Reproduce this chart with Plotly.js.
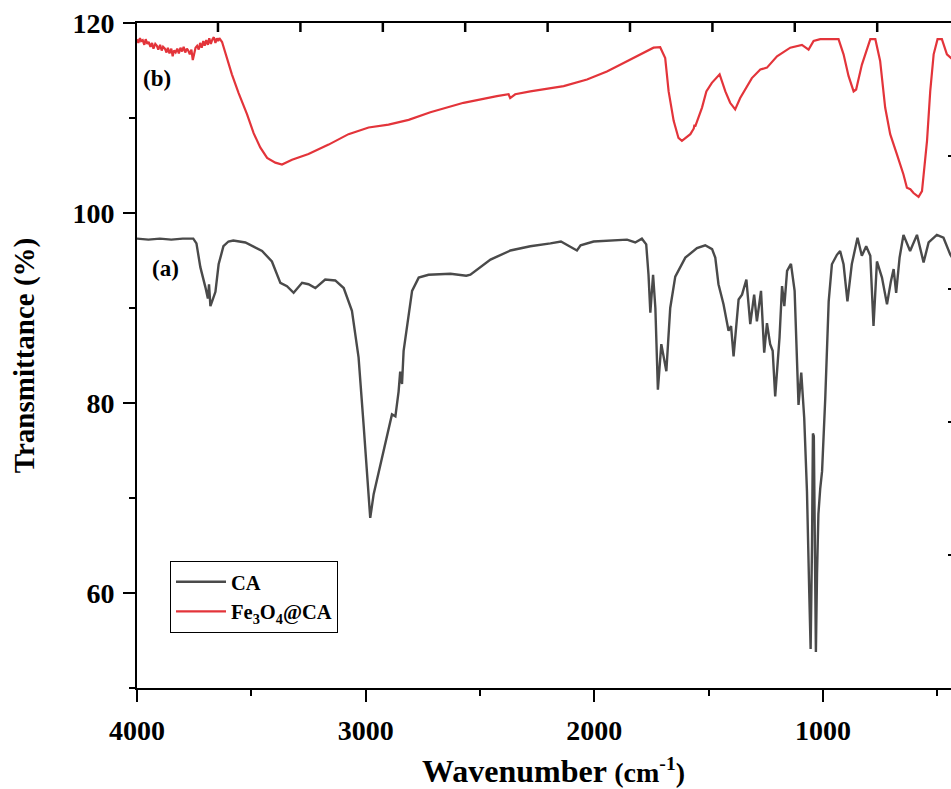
<!DOCTYPE html>
<html>
<head>
<meta charset="utf-8">
<script src="https://cdn.plot.ly/plotly-3.0.1.min.js"></script>
<style>html,body{margin:0;padding:0;overflow:hidden;background:#fff;}</style>
</head>
<body>
<div id="chart"></div>
<script>
// ---- Data ----
const caWavenumber = [4000,3950,3900,3850,3800,3754,3740,3723,3701,3690,3685,3679,3670,3657,3643,3622,3600,3579,3526,3453,3410,3373,3344,3315,3278,3250,3220,3177,3133,3096,3060,3031,3009,2994,2980,2965,2936,2921,2900,2885,2870,2856,2849,2841,2834,2819,2797,2768,2725,2629,2560,2542,2454,2367,2280,2192,2146,2076,2060,2003,1930,1857,1821,1792,1773,1763,1755,1743,1733,1722,1707,1685,1668,1646,1602,1551,1515,1485,1471,1457,1435,1413,1402,1391,1369,1354,1335,1318,1301,1289,1271,1257,1245,1231,1220,1209,1190,1179,1169,1157,1140,1124,1107,1095,1082,1070,1060,1054,1048,1044,1040,1036,1031,1026,1020,1012,1004,990,975,961,939,925,910,893,874,849,830,811,793,779,764,742,720,703,691,680,665,648,619,589,560,538,502,473,443,427];
const caTransmittance = [97.3,97.2,97.3,97.2,97.3,97.3,96.8,94.3,92.2,91.0,92.5,90.2,90.8,91.7,94.6,96.5,97.0,97.1,96.9,96.0,94.9,92.65,92.3,91.6,92.65,92.5,92.1,93.0,92.9,92.1,89.7,84.8,77.7,72.5,67.9,70.4,73.5,74.9,77.0,78.8,78.6,81.2,83.3,82.0,85.5,88.3,91.8,93.2,93.5,93.6,93.4,93.5,95.1,96.05,96.5,96.8,97.0,96.05,96.6,97.0,97.1,97.2,96.9,97.3,96.7,93.5,89.5,93.5,90.0,81.4,86.2,83.35,90.0,93.3,95.3,96.3,96.6,96.2,95.3,92.5,90.4,87.6,88.1,84.9,90.9,91.4,93.0,88.3,91.4,88.6,91.8,85.3,88.4,86.2,85.5,80.7,86.9,92.3,90.2,93.9,94.65,91.8,79.8,83.2,78.4,70.7,60.0,54.1,65.0,76.8,76.5,65.0,53.8,62.0,68.3,71.0,72.8,80.5,90.7,94.6,95.6,96.0,94.6,90.7,94.6,97.4,95.5,96.5,95.5,88.1,94.9,93.2,90.4,92.8,94.1,91.6,95.3,97.7,96.0,97.7,94.8,96.9,97.7,97.4,95.6,95.0];

const feWavenumber = [4000,3994,3987,3982,3975,3968,3962,3955,3949,3941,3934,3928,3920,3913,3907,3899,3892,3886,3878,3871,3865,3858,3850,3844,3838,3831,3824,3817,3810,3803,3796,3789,3782,3776,3769,3762,3756,3750,3744,3737,3730,3724,3717,3710,3704,3697,3690,3684,3677,3670,3664,3657,3651,3645,3640,3628,3614,3585,3556,3519,3490,3461,3431,3395,3366,3340,3322,3250,3162,3075,2987,2900,2812,2717,2572,2426,2375,2368,2355,2346,2280,2134,2032,1945,1872,1799,1741,1712,1690,1675,1653,1632,1617,1580,1565,1562,1559,1529,1510,1486,1452,1427,1406,1384,1362,1311,1274,1245,1201,1143,1092,1063,1041,1012,932,910,888,866,855,830,793,771,750,728,706,677,648,633,618,604,582,567,545,531,516,499,480,458,439,427];
const feTransmittance = [118.3,117.9,118.4,118.1,118.2,117.7,118.3,117.8,118.0,117.5,117.9,117.3,117.8,117.6,117.2,117.7,117.1,117.5,117.3,116.9,117.4,116.8,117.3,116.5,117.1,116.9,117.3,116.8,117.4,117.0,117.5,116.9,117.3,117.1,116.7,117.2,116.1,116.8,117.4,117.6,117.2,117.9,117.4,118.1,117.6,118.2,117.7,118.4,117.8,118.3,118.5,117.9,118.4,118.1,118.4,118.0,116.9,114.6,112.65,110.4,108.4,106.9,105.8,105.3,105.1,105.4,105.6,106.2,107.2,108.3,109.0,109.3,109.8,110.6,111.6,112.3,112.5,112.1,112.4,112.5,112.8,113.35,114.05,114.9,115.8,116.7,117.4,117.45,116.3,112.8,109.7,107.9,107.6,108.3,108.9,109.3,109.1,111.1,112.8,113.7,114.6,112.8,111.6,110.9,112.1,114.2,115.1,115.3,116.5,117.4,117.7,117.2,118.1,118.3,118.3,116.7,114.4,112.8,113.0,115.6,118.3,118.3,116.0,111.1,108.3,106.2,104.05,102.65,102.5,102.1,101.7,102.3,107.6,112.8,116.7,118.3,118.3,116.7,116.3,116.4];

const seriesNames = ['CA', 'Fe<sub>3</sub>O<sub>4</sub>@CA'];
const seriesColors = ['#4a4a4a', '#e3343a'];
const xTicks = [4000, 3000, 2000, 1000];
const xMinorTicks = [3500, 2500, 1500, 500];
const yTicks = [60, 80, 100, 120];
const yMinorTicks = [50, 70, 90, 110];
// frame ticks of the cropped top / right axes (paper fractions of the plot area)
const topFrameTickPos = [0.0991, 0.2000, 0.3009, 0.4017, 0.5026, 0.6034, 0.7043, 0.8051, 0.9060];
const rightFrameTicks = [0, 1, 2, 3, 4, 5];

const FONT = 'Liberation Serif, Times New Roman, serif';

const traces = [
  {x: caWavenumber, y: caTransmittance, type: 'scatter', mode: 'lines', name: seriesNames[0],
   line: {color: seriesColors[0], width: 2.4}},
  {x: feWavenumber, y: feTransmittance, type: 'scatter', mode: 'lines', name: seriesNames[1],
   line: {color: seriesColors[1], width: 2.2}},
  // empty helper trace so the right frame axis is drawn
  {x: [], y: [], xaxis: 'x', yaxis: 'y2', type: 'scatter', mode: 'lines', showlegend: false, hoverinfo: 'skip'}
];

const PLOT_H = 789 - 23 - 101;

const layout = {
  width: 960, height: 789,
  margin: {l: 137, r: 6, t: 23, b: 101},
  paper_bgcolor: '#fff', plot_bgcolor: '#fff',
  font: {family: FONT, color: '#000'},
  showlegend: true,
  legend: {x: 0.0404, y: 0.191, xanchor: 'left', yanchor: 'top',
           bordercolor: '#000', borderwidth: 1, bgcolor: 'rgba(0,0,0,0)',
           font: {family: FONT, size: 20.5, weight: 'bold', color: '#000'},
           itemwidth: 50, tracegroupgap: 0},
  xaxis: {
    type: 'linear',
    range: [4000, 427], tickmode: 'array', tickvals: xTicks, ticktext: xTicks.map(String),
    ticks: 'outside', ticklen: 12, tickwidth: 2, tickcolor: '#000',
    showline: true, linewidth: 2, linecolor: '#000', mirror: true,
    showgrid: false, zeroline: false,
    tickfont: {family: FONT, size: 28, weight: 'bold', color: '#000'},
    ticklabelstandoff: 4,
    minor: {tickvals: xMinorTicks, ticks: 'outside', ticklen: 6, tickwidth: 2, tickcolor: '#000', showgrid: false},
    title: {text: '&nbsp;&nbsp;Wavenumber <span style="font-size:28px">(cm<sup>-1</sup>)</span>',
            font: {family: FONT, size: 32, weight: 'bold', color: '#000'}, standoff: 21}
  },
  yaxis: {
    type: 'linear',
    range: [50, 120], tickmode: 'array', tickvals: yTicks, ticktext: yTicks.map(String),
    ticks: 'outside', ticklen: 12, tickwidth: 2, tickcolor: '#000',
    showline: true, linewidth: 2, linecolor: '#000', mirror: false,
    showgrid: false, zeroline: false,
    tickfont: {family: FONT, size: 28, weight: 'bold', color: '#000'},
    ticklabelstandoff: 3,
    minor: {tickvals: yMinorTicks, ticks: 'outside', ticklen: 6, tickwidth: 2, tickcolor: '#000', showgrid: false},
    title: {text: 'Transmittance (%)',
            font: {family: FONT, size: 29, weight: 'bold', color: '#000'}, standoff: 29}
  },
  yaxis2: {
    type: 'linear',
    overlaying: 'y', side: 'right', anchor: 'x', range: [0, 5],
    tickmode: 'array', tickvals: rightFrameTicks,
    ticks: 'inside', ticklen: 6, tickwidth: 2, tickcolor: '#000',
    showline: true, linewidth: 2, linecolor: '#000', showticklabels: false,
    showgrid: false, zeroline: false
  },
  shapes: topFrameTickPos.map(p => ({
    type: 'line', xref: 'paper', yref: 'paper', x0: p, x1: p, y0: 1, y1: 1 - 9 / PLOT_H,
    line: {color: '#000', width: 2.5}, layer: 'above'
  })),
  annotations: [
    {x: 3876, y: 94.2, xref: 'x', yref: 'y', text: '(a)', showarrow: false,
     font: {family: FONT, size: 23, weight: 'bold', color: '#000'}},
    {x: 3913, y: 114.2, xref: 'x', yref: 'y', text: '(b)', showarrow: false,
     font: {family: FONT, size: 23, weight: 'bold', color: '#000'}}
  ]
};

Plotly.newPlot('chart', traces, layout, {displayModeBar: false, staticPlot: true});
</script>
</body>
</html>
